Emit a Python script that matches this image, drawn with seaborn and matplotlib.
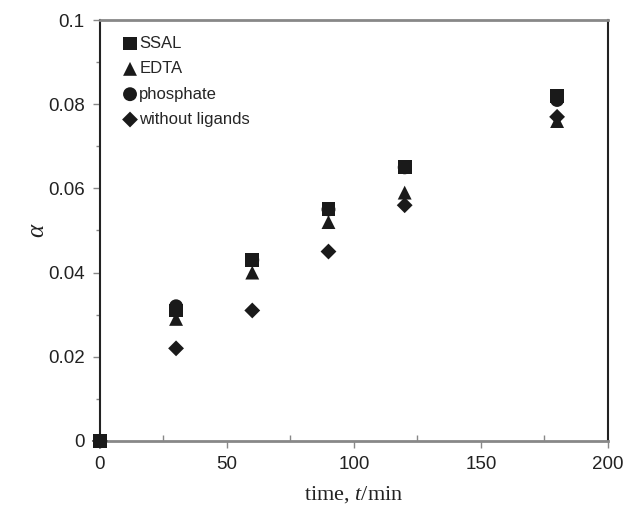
import matplotlib
matplotlib.use("Agg")
import matplotlib.pyplot as plt
import seaborn as sns
import pandas as pd
from matplotlib.ticker import MultipleLocator, FixedLocator, FuncFormatter

time_min = [0, 30, 60, 90, 120, 180]
ssal = [0.0, 0.031, 0.043, 0.055, 0.065, 0.082]
edta = [0.0, 0.029, 0.040, 0.052, 0.059, 0.076]
phosphate = [0.0, 0.032, 0.043, 0.055, 0.065, 0.081]
without_ligands = [0.0, 0.022, 0.031, 0.045, 0.056, 0.077]

series_names = ["SSAL", "EDTA", "phosphate", "without ligands"]
series_values = [ssal, edta, phosphate, without_ligands]
markers = {"SSAL": "s", "EDTA": "^", "phosphate": "o", "without ligands": "D"}
sizes = {"SSAL": 100, "EDTA": 100, "phosphate": 100, "without ligands": 65}
draw_order = ["phosphate", "SSAL", "EDTA", "without ligands"]

sns.set_theme(style="white")
plt.rcParams["font.family"] = ["Liberation Sans", "DejaVu Sans"]
plt.rcParams["mathtext.fontset"] = "custom"
plt.rcParams["mathtext.rm"] = "Liberation Serif"
plt.rcParams["mathtext.it"] = "Liberation Serif:italic"

fig = plt.figure(figsize=(6.28, 5.2), dpi=100)
ax = fig.add_axes([0.159, 0.152, 0.809, 0.8095])

rows = []
for name, vals in zip(series_names, series_values):
    for t, v in zip(time_min, vals):
        rows.append({"time": t, "alpha": v, "series": name})
df = pd.DataFrame(rows)

for name in draw_order:
    sub = df[df["series"] == name]
    sns.scatterplot(data=sub, x="time", y="alpha", marker=markers[name],
                    s=sizes[name], color="#1a1a1a", edgecolor="none",
                    ax=ax, label=name, zorder=3, clip_on=False)

h, l = ax.get_legend_handles_labels()
hd = dict(zip(l, h))
leg = ax.legend([hd[n] for n in series_names], series_names, loc="upper left",
                bbox_to_anchor=(0.02, 0.99), frameon=False, fontsize=12,
                handletextpad=0.05, labelspacing=0.62, handlelength=1.0,
                borderaxespad=0.3)

ax.set_xlim(0, 200)
ax.set_ylim(0, 0.1)
ax.xaxis.set_major_locator(MultipleLocator(50))
ax.xaxis.set_minor_locator(FixedLocator([25, 75, 125, 175]))
ax.yaxis.set_major_locator(MultipleLocator(0.02))
ax.yaxis.set_minor_locator(FixedLocator([0.01, 0.03, 0.05, 0.07, 0.09]))
ax.xaxis.set_major_formatter(FuncFormatter(lambda v, p: f"{v:g}"))
ax.yaxis.set_major_formatter(FuncFormatter(lambda v, p: f"{round(v, 3):g}"))

ax.tick_params(axis="both", which="major", direction="out", length=5, width=1,
               color="#888888", labelsize=13.5, labelcolor="#222222", pad=6,
               bottom=True, left=True)
ax.tick_params(axis="x", which="minor", direction="in", length=4, width=1,
               color="#888888", bottom=True)
ax.tick_params(axis="y", which="minor", direction="out", length=3, width=1,
               color="#888888", left=True)

for side in ["left", "right"]:
    ax.spines[side].set_color("#222222")
    ax.spines[side].set_linewidth(1.5)
for side in ["top", "bottom"]:
    ax.spines[side].set_color("#888888")
    ax.spines[side].set_linewidth(2.0)

ax.set_xlabel("time, $t$/min", fontsize=16, family="Liberation Serif",
              color="#222222", labelpad=8)
ax.set_ylabel("$\\alpha$", fontsize=18, color="#222222")
ax.yaxis.set_label_coords(-0.1, 0.5)

fig.savefig("out.png", dpi=100, facecolor="white")
